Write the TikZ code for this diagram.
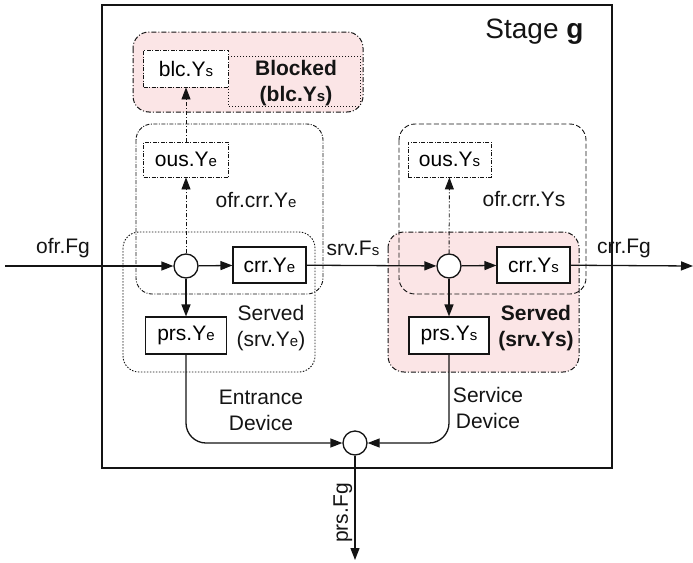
\documentclass[tikz,border=0pt]{standalone}
\usepackage{fontspec}
\setmainfont{Liberation Sans}
\usetikzlibrary{arrows.meta}
\definecolor{pinkfill}{RGB}{251,229,230}
\definecolor{linecol}{RGB}{20,20,20}
\newcommand\smallsub[1]{{\fontsize{15}{15}\selectfont #1}}
\tikzset{
  box/.style={draw=linecol, line width=1.1pt, fill=white, rectangle, inner sep=0pt, font=\fontsize{21}{21}\selectfont},
  dbox/.style={box, line width=0.9pt, dash pattern=on 4pt off 1.5pt on 1pt off 1.5pt},
  junc/.style={draw=linecol, line width=1.3pt, fill=white, circle, minimum size=24pt, inner sep=0pt},
  conn/.style={draw=linecol, line width=1.3pt, -{Triangle[length=12pt,width=9pt]}},
  dconn/.style={draw=linecol, line width=0.9pt, dash pattern=on 4pt off 2pt on 1pt off 2pt, -{Triangle[length=12pt,width=9pt]}},
  lbl/.style={font=\fontsize{21}{26}\selectfont, align=center, text=linecol},
  region/.style={draw=linecol, line width=0.9pt, rounded corners=16pt},
}
\begin{document}
\begin{tikzpicture}[x=1pt,y=-1pt]
\useasboundingbox (0,0) rectangle (693,562);
% stage box
\draw[draw=linecol, line width=1.3pt] (102,5) rectangle (612,468);
\node[lbl, font=\fontsize{28}{28}\selectfont, anchor=east] (stage) at (587,32) {Stage \textbf{g}};
% pink regions
\draw[region, fill=pinkfill, dash pattern=on 5pt off 2pt on 1pt off 2pt, line width=1pt] (133,32) rectangle (363,112);
\draw[region, fill=pinkfill, dash pattern=on 5pt off 2pt on 1pt off 2pt, line width=1pt] (388,232) rectangle (579,372);
% dotted box within Blocked
\draw[draw=linecol, line width=0.9pt, dash pattern=on 1pt off 2pt] (228,56) rectangle (360,106);
% other regions
\draw[region, dash pattern=on 4pt off 1.5pt on 1pt off 1.5pt] (136,124) rectangle (323,294);
\draw[region, dash pattern=on 1.5pt off 1.5pt] (123,232) rectangle (315,372);
\draw[region, dash pattern=on 5pt off 2.5pt] (399,124) rectangle (586,294);
% nodes
\node[dbox, minimum width=85pt, minimum height=37pt] (blc) at (186,68.5) {blc.Y\smallsub{s}};
\node[lbl, font=\fontsize{21}{26}\selectfont\bfseries] (blocked) at (296,83) {Blocked\\(blc.Y\smallsub{s})};
\node[dbox, minimum width=85pt, minimum height=35pt] (ousYe) at (186,159.5) {ous.Y\smallsub{e}};
\node[dbox, minimum width=83pt, minimum height=35pt] (ousYs) at (449.5,159.5) {ous.Y\smallsub{s}};
\node[junc] (c1) at (186,266) {};
\node[junc] (c2) at (449,266) {};
\node[junc] (c3) at (355,443) {};
\node[box, minimum width=73pt, minimum height=36pt] (crrYe) at (269.5,265) {crr.Y\smallsub{e}};
\node[box, minimum width=73pt, minimum height=36pt] (crrYs) at (533.5,265) {crr.Y\smallsub{s}};
\node[box, minimum width=81pt, minimum height=37pt] (prsYe) at (186,335.5) {prs.Y\smallsub{e}};
\node[box, minimum width=80pt, minimum height=37pt] (prsYs) at (449,335.5) {prs.Y\smallsub{s}};
% labels
\node[lbl] (lofr) at (63,248) {ofr.Fg};
\node[lbl] (lsrv) at (353,248) {srv.F\smallsub{s}};
\node[lbl] (lcrr) at (624,248) {crr.Fg};
\node[lbl] (locy) at (256,200) {ofr.crr.Y\smallsub{e}};
\node[lbl] (locs) at (524,199) {ofr.crr.Ys};
\node[lbl] (servedE) at (271,328) {Served\\(srv.Y\smallsub{e})};
\node[lbl, font=\fontsize{21}{26}\selectfont\bfseries] (servedS) at (536,328) {Served\\(srv.Ys)};
\node[lbl] (entr) at (261,410) {Entrance\\Device};
\node[lbl] (serv) at (488,408) {Service\\Device};
% coordinates
\coordinate (inL) at (5,266);
\coordinate (outR) at (693,266);
\coordinate (outB) at (355,560);
% connectors
\draw[conn] (inL) -- (c1);
\draw[conn] (c1) -- (crrYe);
\draw[conn] (c1) -- (prsYe);
\draw[dconn] (c1) -- (ousYe);
\draw[dconn] (ousYe) -- (blc);
\draw[conn] (crrYe) -- (c2);
\draw[conn] (c2) -- (crrYs);
\draw[conn] (c2) -- (prsYs);
\draw[dconn] (c2) -- (ousYs);
\draw[conn] (crrYs) -- (outR);
\draw[conn, rounded corners=20pt] (prsYe.south) |- (c3.west);
\draw[conn, rounded corners=20pt] (prsYs.south) |- (c3.east);
\draw[conn] (c3) -- (outB) node[pos=0.55, lbl, rotate=90, above, inner sep=2pt] (lprs) {prs.Fg};
\end{tikzpicture}
\end{document}
